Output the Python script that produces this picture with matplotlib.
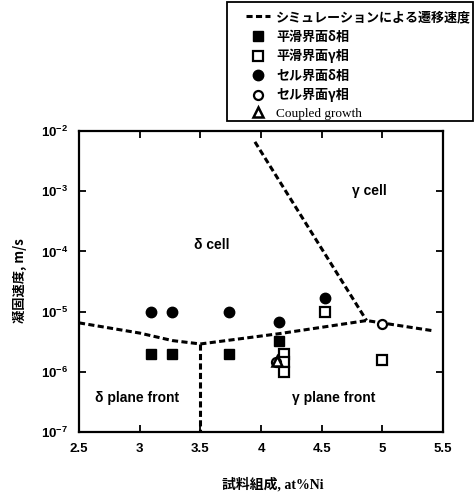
import matplotlib
matplotlib.use("Agg")
import matplotlib.pyplot as plt
from matplotlib.lines import Line2D
from matplotlib.patches import Rectangle

plt.rcParams['font.family'] = ['Liberation Sans', 'Noto Sans CJK JP', 'DejaVu Sans']
plt.rcParams['mathtext.default'] = 'regular'

# ---- data ----
plane_delta_x = [3.09, 3.27, 3.74, 4.15]
plane_delta_y = [1.95e-6, 1.95e-6, 2.0e-6, 3.2e-6]

plane_gamma_x = [4.19, 4.19, 4.19, 4.53, 5.0]
plane_gamma_y = [2.0e-6, 1.45e-6, 1.0e-6, 1.0e-5, 1.6e-6]

cell_delta_x = [3.09, 3.27, 3.74, 4.15, 4.53]
cell_delta_y = [1.0e-5, 1.0e-5, 1.0e-5, 6.6e-6, 1.66e-5]

cell_gamma_x = [4.12, 5.0]
cell_gamma_y = [1.45e-6, 6.3e-6]

coupled_x = [4.13]
coupled_y = [1.5e-6]

sim_left_x = [2.5, 3.0, 3.27, 3.5]
sim_left_y = [6.5e-6, 4.4e-6, 3.3e-6, 2.9e-6]
sim_vert_x = [3.5, 3.5]
sim_vert_y = [2.9e-6, 1.0e-7]
sim_right_x = [3.5, 4.15, 4.87, 5.42]
sim_right_y = [2.9e-6, 4.3e-6, 7.1e-6, 4.8e-6]
sim_steep_x = [3.95, 4.87]
sim_steep_y = [6.6e-3, 7.1e-6]

x_ticks = [2.5, 3, 3.5, 4, 4.5, 5, 5.5]
x_ticklabels = ['2.5', '3', '3.5', '4', '4.5', '5', '5.5']
y_ticks = [1e-7, 1e-6, 1e-5, 1e-4, 1e-3, 1e-2]
y_ticklabels = [r'$\mathdefault{10^{-7}}$', r'$\mathdefault{10^{-6}}$', r'$\mathdefault{10^{-5}}$',
                r'$\mathdefault{10^{-4}}$', r'$\mathdefault{10^{-3}}$', r'$\mathdefault{10^{-2}}$']

legend_labels = ['シミュレーションによる遷移速度', '平滑界面δ相', '平滑界面γ相',
                 'セル界面δ相', 'セル界面γ相', 'Coupled growth']

region_labels = ['δ cell', 'γ cell', 'δ plane front', 'γ plane front']
region_x = [3.59, 4.89, 2.98, 4.6]
region_y = [1.26e-4, 1.0e-3, 3.7e-7, 3.7e-7]

# ---- figure ----
W, H = 475, 497
fig = plt.figure(figsize=(4.75, 4.97), dpi=100)
ax = fig.add_axes([79/W, 1-432/H, 364/W, 301/H])
ax.set_yscale('log')
ax.set_xlim(2.5, 5.5)
ax.set_ylim(1e-7, 1e-2)

dash = dict(color='black', lw=2.2, linestyle=(0, (2.0, 1.1)), dash_capstyle='butt')
ax.plot(sim_left_x, sim_left_y, **dash)
ax.plot(sim_vert_x, sim_vert_y, **dash)
ax.plot(sim_right_x, sim_right_y, **dash)
ax.plot(sim_steep_x, sim_steep_y, **dash)

ms = 7
h1, = ax.plot(plane_delta_x, plane_delta_y, 's', color='black', ms=ms, ls='none')
h2, = ax.plot(plane_gamma_x, plane_gamma_y, 's', mfc='white', mec='black', mew=1.6, ms=ms, ls='none')
h3, = ax.plot(cell_delta_x, cell_delta_y, 'o', color='black', ms=ms + 0.5, ls='none')
h4, = ax.plot(cell_gamma_x, cell_gamma_y, 'o', mfc='white', mec='black', mew=1.6, ms=ms - 0.5, ls='none')
h5, = ax.plot(coupled_x, coupled_y, '^', mfc='white', mec='black', mew=1.8, ms=ms - 0.5, ls='none')

for t, x, y in zip(region_labels, region_x, region_y):
    ax.text(x, y, t, ha='center', va='center', fontsize=10, fontweight='bold',
            family=['Liberation Sans', 'DejaVu Sans'])

ax.set_xticks(x_ticks)
ax.set_xticklabels(x_ticklabels)
ax.set_yticks(y_ticks)
ax.set_yticklabels(y_ticklabels)
ax.minorticks_off()
ax.tick_params(which='both', direction='in', top=True, right=True, length=5, width=1.3,
               labelsize=9.5, pad=8)
for lab in ax.get_xticklabels() + ax.get_yticklabels():
    lab.set_fontweight('bold')
for s in ax.spines.values():
    s.set_linewidth(1.6)

fig.text(273/W, 1-484/H, '試料組成, at%Ni', ha='center', va='center', fontsize=10,
         family=['Liberation Serif', 'Noto Sans CJK JP'], fontweight='bold')
fig.text(20/W, 1-281/H, '凝固速度, m/s', ha='center', va='center', rotation=90,
         fontsize=9.5, family=['Noto Sans CJK JP', 'DejaVu Sans'], fontweight='bold')

# legend frame
fig.add_artist(Rectangle((227/W, 1-121/H), (473-227)/W, (121-2)/H, transform=fig.transFigure,
                         fill=False, edgecolor='black', lw=1.3))

handles = [Line2D([], [], **dash), h1, h2, h3, h4, h5]
leg = fig.legend(handles, legend_labels, loc='upper left',
                 bbox_to_anchor=(246/W, 1-10/H), bbox_transform=fig.transFigure,
                 frameon=False, fontsize=9.4, handlelength=1.85, handletextpad=0.45,
                 borderpad=0, labelspacing=0.42, borderaxespad=0)
for i, txt in enumerate(leg.get_texts()):
    if i == 5:
        txt.set_family(['Liberation Serif', 'DejaVu Serif'])
        txt.set_fontsize(9.5)
    else:
        txt.set_family(['Noto Sans CJK JP', 'DejaVu Sans'])
        txt.set_fontweight('bold')

fig.savefig('out.png', dpi=100)
